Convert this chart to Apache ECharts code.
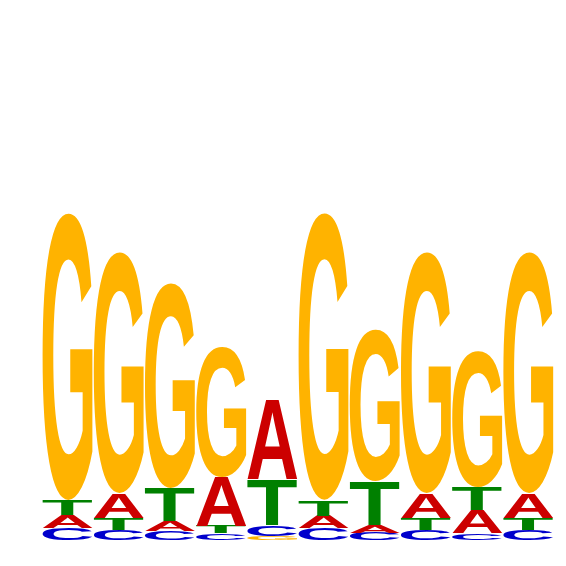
<!DOCTYPE html>
<html>
<head>
<meta charset="utf-8">
<script src="https://cdn.jsdelivr.net/npm/echarts@6/dist/echarts.min.js"></script>
<style>
    html, body { margin: 0; padding: 0; background: #fff; }
    #chart { width: 566px; height: 566px; }
</style>
</head>
<body>
<div id="chart"></div>
<script>
// positions of the motif
var positions = ['1', '2', '3', '4', '5', '6', '7', '8', '9', '10'];
// information per letter (bits)
var valuesA = [0.052, 0.100, 0.040, 0.196, 0.320, 0.049, 0.031, 0.100, 0.092, 0.100];
var valuesC = [0.048, 0.040, 0.036, 0.028, 0.044, 0.048, 0.030, 0.040, 0.028, 0.040];
var valuesG = [1.148, 0.964, 0.820, 0.520, 0.016, 1.148, 0.608, 0.964, 0.544, 0.964];
var valuesT = [0.060, 0.048, 0.132, 0.030, 0.184, 0.064, 0.176, 0.048, 0.094, 0.048];

var letters = ['A', 'C', 'G', 'T'];
var colors = { A: '#cc0000', C: '#0000cc', G: '#ffb300', T: '#008000' };
var font = 'bold 100px "Liberation Sans"';

// ink box of every letter, so each glyph can be stretched into its cell
var metrics = {};
var ctx = document.createElement('canvas').getContext('2d');
ctx.font = font;
ctx.textAlign = 'left';
ctx.textBaseline = 'middle';
for (var i = 0; i < letters.length; i++) {
    var m = ctx.measureText(letters[i]);
    metrics[letters[i]] = {
        left: m.actualBoundingBoxLeft,
        w: m.actualBoundingBoxLeft + m.actualBoundingBoxRight,
        ascent: m.actualBoundingBoxAscent,
        h: m.actualBoundingBoxAscent + m.actualBoundingBoxDescent
    };
}

function stacks() {
    var table = { A: valuesA, C: valuesC, G: valuesG, T: valuesT };
    var data = [];
    for (var p = 0; p < positions.length; p++) {
        var col = [];
        for (var k = 0; k < letters.length; k++) {
            col.push({ k: k, v: table[letters[k]][p] });
        }
        col.sort(function (a, b) { return a.v - b.v; });
        var base = 0;
        for (var j = 0; j < col.length; j++) {
            data.push([p, base, base + col[j].v, col[j].k]);
            base += col[j].v;
        }
    }
    return data;
}

function renderLetter(params, api) {
    var letter = letters[api.value(3)];
    var m = metrics[letter];
    var p0 = api.coord([api.value(0), api.value(1)]);
    var p1 = api.coord([api.value(0), api.value(2)]);
    var w = api.size([1, 0])[0] * 0.98;
    var h = p0[1] - p1[1];
    var sx = w / m.w;
    var sy = h / m.h;
    return {
        type: 'text',
        x: p0[0] - w / 2 + m.left * sx,
        y: p1[1] + m.ascent * sy,
        scaleX: sx,
        scaleY: sy,
        style: {
            text: letter,
            font: font,
            fill: colors[letter],
            align: 'left',
            verticalAlign: 'middle'
        }
    };
}

var chart = echarts.init(document.getElementById('chart'));
chart.setOption({
    animation: false,
    grid: { left: 42, right: 12, top: 40, bottom: 26 },
    xAxis: { type: 'category', data: positions, show: false },
    yAxis: { type: 'value', min: 0, max: 2, show: false },
    series: [{
        type: 'custom',
        renderItem: renderLetter,
        data: stacks()
    }]
});
</script>
</body>
</html>
